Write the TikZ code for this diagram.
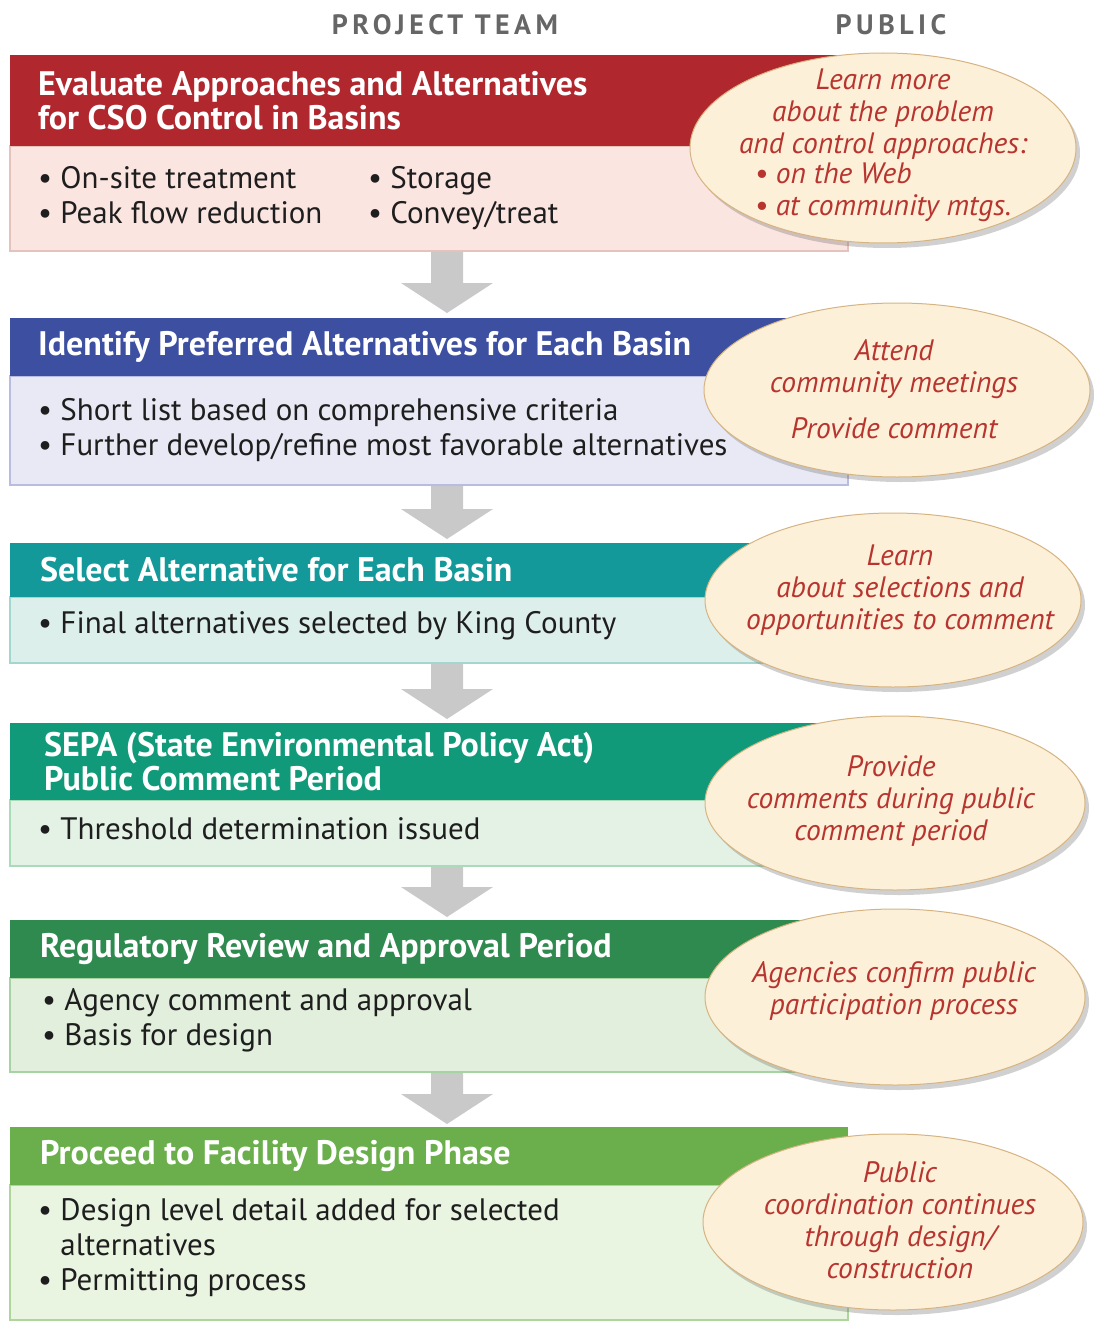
\documentclass[tikz,border=0pt]{standalone}
\usepackage{fontspec}
\setmainfont{PT Sans}
\newfontfamily\condfont{PT Sans}
\usetikzlibrary{shapes.geometric,shadows,calc}
\definecolor{hdrA}{HTML}{B0282E}
\definecolor{bodyA}{HTML}{FBE5E1}
\definecolor{lineA}{HTML}{E5C3BD}
\definecolor{hdrB}{HTML}{3C4FA0}
\definecolor{bodyB}{HTML}{E9E9F5}
\definecolor{lineB}{HTML}{B9BCE0}
\definecolor{hdrC}{HTML}{14999A}
\definecolor{bodyC}{HTML}{DDEFEB}
\definecolor{lineC}{HTML}{A3D6CF}
\definecolor{hdrD}{HTML}{119A79}
\definecolor{bodyD}{HTML}{E4F2E6}
\definecolor{lineD}{HTML}{AADBB8}
\definecolor{hdrE}{HTML}{2E8A4E}
\definecolor{bodyE}{HTML}{E1EFDC}
\definecolor{lineE}{HTML}{A6D3A2}
\definecolor{hdrF}{HTML}{6AAF4B}
\definecolor{bodyF}{HTML}{E9F4E1}
\definecolor{lineF}{HTML}{AED69C}
\definecolor{pubin}{HTML}{FDF0D8}
\definecolor{pubout}{HTML}{F2CFA2}
\definecolor{publine}{HTML}{D6B482}
\definecolor{pubtextcol}{HTML}{B8342F}
\definecolor{arrowgray}{HTML}{C9C9C9}
\definecolor{coltitle}{HTML}{666666}
\definecolor{bodytext}{HTML}{1E1E1E}
\pgfdeclareradialshading{pubshade}{\pgfpoint{0bp}{0bp}}{color(0bp)=(pubin); color(28bp)=(pubin); color(49bp)=(pubout); color(50bp)=(pubout)}
\newcommand\grayarrow[2]{\fill[arrowgray] ($(#1)+(-16,0)$) -- ($(#2)+(-16,-30)$) -- ($(#2)+(-46,-30)$) -- (#2) -- ($(#2)+(46,-30)$) -- ($(#2)+(16,-30)$) -- ($(#1)+(16,0)$) -- cycle;}
\begin{document}
\begin{tikzpicture}[x=1pt,y=-1pt,
  hdrbox/.style={rectangle, inner sep=0pt, outer sep=0pt, minimum width=838pt, anchor=north west},
  bodybox/.style={rectangle, inner sep=0pt, outer sep=0pt, minimum width=838pt, anchor=north west, line width=1.5pt},
  hdrtext/.style={anchor=west, align=left, inner sep=0pt, text=white, font=\condfont\bfseries\fontsize{34}{34}\selectfont},
  bodytxt/.style={anchor=west, align=left, inner sep=0pt, text=bodytext, font=\condfont\fontsize{31}{35}\selectfont},
  pubell/.style={ellipse, draw=publine, line width=1pt, shade, shading=pubshade, inner sep=0pt,
    drop shadow={shadow xshift=4pt, shadow yshift=-5pt, opacity=0.3, fill=black!60}},
  pubtext/.style={align=center, inner sep=0pt, text=pubtextcol, font=\condfont\itshape\fontsize{29.5}{32}\selectfont},
  coltext/.style={inner sep=0pt, text=coltitle, font=\bfseries\fontsize{28}{30}\selectfont\addfontfeatures{LetterSpace=16}}]
\useasboundingbox (0,0) rectangle (1093,1327);
\fill[white] (0,0) rectangle (1093,1327);
% column titles
\node[coltext] (ptitle) at (445,25) {PROJECT TEAM};
\node[coltext] (pubtitle) at (891,25) {PUBLIC};
% box 1
\node[bodybox, fill=bodyA, draw=lineA, minimum height=105pt] (b1) at (10,146) {};
\node[hdrbox, fill=hdrA, minimum height=91pt] (h1) at (10,55) {};
\node[hdrtext] (h1t) at ($(h1.west)+(28,0)$) {Evaluate Approaches and Alternatives\\for CSO Control in Basins};
\node[bodytxt] (b1t) at ($(b1.west)+(28,0)$) {\begin{tabular}{@{}p{330pt}@{}l@{}}• On-site treatment & • Storage\\• Peak flow reduction & • Convey/treat\end{tabular}};
% box 2
\node[bodybox, fill=bodyB, draw=lineB, minimum height=109pt] (b2) at (10,376) {};
\node[hdrbox, fill=hdrB, minimum height=58pt] (h2) at (10,318) {};
\node[hdrtext] (h2t) at ($(h2.west)+(28,0)$) {Identify Preferred Alternatives for Each Basin};
\node[bodytxt] (b2t) at ($(b2.west)+(28,0)$) {• Short list based on comprehensive criteria\\• Further develop/refine most favorable alternatives};
% box 3
\node[bodybox, fill=bodyC, draw=lineC, minimum height=66pt] (b3) at (10,597) {};
\node[hdrbox, fill=hdrC, minimum height=54pt] (h3) at (10,543) {};
\node[hdrtext] (h3t) at ($(h3.west)+(30,0)$) {Select Alternative for Each Basin};
\node[bodytxt] (b3t) at ($(b3.west)+(28,-4)$) {• Final alternatives selected by King County};
% box 4
\node[bodybox, fill=bodyD, draw=lineD, minimum height=66pt] (b4) at (10,800) {};
\node[hdrbox, fill=hdrD, minimum height=77pt] (h4) at (10,723) {};
\node[hdrtext] (h4t) at ($(h4.west)+(34,0)$) {SEPA (State Environmental Policy Act)\\Public Comment Period};
\node[bodytxt] (b4t) at ($(b4.west)+(28,-4)$) {• Threshold determination issued};
% box 5
\node[bodybox, fill=bodyE, draw=lineE, minimum height=94pt] (b5) at (10,978) {};
\node[hdrbox, fill=hdrE, minimum height=58pt] (h5) at (10,920) {};
\node[hdrtext] (h5t) at ($(h5.west)+(30,0)$) {Regulatory Review and Approval Period};
\node[bodytxt] (b5t) at ($(b5.west)+(32,-5)$) {• Agency comment and approval\\• Basis for design};
% box 6
\node[bodybox, fill=bodyF, draw=lineF, minimum height=135pt] (b6) at (10,1185) {};
\node[hdrbox, fill=hdrF, minimum height=58pt] (h6) at (10,1127) {};
\node[hdrtext] (h6t) at ($(h6.west)+(30,0)$) {Proceed to Facility Design Phase};
\node[bodytxt] (b6t) at ($(b6.west)+(28,-5)$) {• Design level detail added for selected\\\phantom{• }alternatives\\• Permitting process};
% arrows
\coordinate (a1s) at ($(b1.south west)+(437,1)$);
\coordinate (a1e) at ($(h2.north west)+(437,-5)$);
\coordinate (a2s) at ($(b2.south west)+(437,1)$);
\coordinate (a2e) at ($(h3.north west)+(437,-4)$);
\coordinate (a3s) at ($(b3.south west)+(437,1)$);
\coordinate (a3e) at ($(h4.north west)+(437,-4)$);
\coordinate (a4s) at ($(b4.south west)+(437,1)$);
\coordinate (a4e) at ($(h5.north west)+(437,-3)$);
\coordinate (a5s) at ($(b5.south west)+(437,1)$);
\coordinate (a5e) at ($(h6.north west)+(437,-3)$);
\grayarrow{a1s}{a1e}
\grayarrow{a2s}{a2e}
\grayarrow{a3s}{a3e}
\grayarrow{a4s}{a4e}
\grayarrow{a5s}{a5e}
% public ellipses
\node[pubell, minimum width=386pt, minimum height=190pt] (e1) at (883,148) {};
\node[pubtext] (e1t) at ($(e1.center)+(0,-1)$) {Learn more\\about the problem\\and control approaches:\\\begin{tabular}{@{}l@{}}• on the Web\\• at community mtgs.\end{tabular}};
\node[pubell, minimum width=386pt, minimum height=174pt] (e2) at (897,390) {};
\node[pubtext] (e2t) at ($(e2.center)+(-3,-1)$) {Attend\\community meetings\\[14pt]Provide comment};
\node[pubell, minimum width=376pt, minimum height=174pt] (e3) at (893,600) {};
\node[pubtext] (e3t) at ($(e3.center)+(7,-10)$) {Learn\\about selections and\\opportunities to comment};
\node[pubell, minimum width=380pt, minimum height=174pt] (e4) at (895,803) {};
\node[pubtext] (e4t) at ($(e4.center)+(-4,-2)$) {Provide\\comments during public\\comment period};
\node[pubell, minimum width=380pt, minimum height=176pt] (e5) at (895,997) {};
\node[pubtext] (e5t) at ($(e5.center)+(-1,-6)$) {Agencies confirm public\\participation process};
\node[pubell, minimum width=380pt, minimum height=176pt] (e6) at (893,1222) {};
\node[pubtext] (e6t) at ($(e6.center)+(7,-2)$) {Public\\coordination continues\\through design/\\construction};
\end{tikzpicture}
\end{document}
